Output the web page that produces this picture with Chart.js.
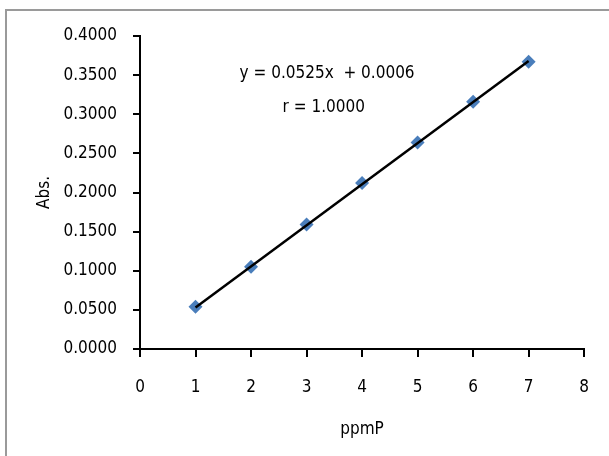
<!DOCTYPE html>
<html>
<head>
<meta charset="utf-8">
<script src="https://cdn.jsdelivr.net/npm/chart.js@4/dist/chart.umd.min.js"></script>
<style>
  html, body { margin: 0; padding: 0; background: #ffffff; }
  canvas { display: block; }
</style>
</head>
<body>
<canvas id="c" width="609" height="456"></canvas>
<script>
// ---- data ----
const ppmP = [1, 2, 3, 4, 5, 6, 7];
const absorbance = [0.054, 0.105, 0.159, 0.212, 0.264, 0.316, 0.367];
const trendX = [1, 7];
const trendY = [0.0531, 0.3681];
const xTicks = [0, 1, 2, 3, 4, 5, 6, 7, 8];
const yTicks = [0, 0.05, 0.10, 0.15, 0.20, 0.25, 0.30, 0.35, 0.40];
const equationText = 'y = 0.0525x  + 0.0006';
const rText = 'r = 1.0000';
const xTitle = 'ppmP';
const yTitle = 'Abs.';

const FONT = '"DejaVu Sans Condensed", "Open Sans", sans-serif';

const pointData = ppmP.map((x, i) => ({ x: x, y: absorbance[i] }));
const trendData = trendX.map((x, i) => ({ x: x, y: trendY[i] }));

const frame = {
  id: 'frame',
  beforeDraw(chart) {
    const ctx = chart.ctx;
    ctx.save();
    ctx.fillStyle = '#ffffff';
    ctx.fillRect(0, 0, chart.width, chart.height);
    ctx.strokeStyle = '#9a9a9a';
    ctx.lineWidth = 2;
    ctx.strokeRect(6, 10, 800, 700);
    ctx.restore();
  }
};

const labels = {
  id: 'labels',
  afterDatasetsDraw(chart) {
    const ctx = chart.ctx;
    const xs = chart.scales.x, ys = chart.scales.y;
    ctx.save();
    ctx.fillStyle = '#000000';
    ctx.font = '17px ' + FONT;
    ctx.textAlign = 'center';
    ctx.textBaseline = 'middle';
    ctx.fillText(equationText, xs.getPixelForValue(3.37), ys.getPixelForValue(0.352));
    ctx.fillText(rText, xs.getPixelForValue(3.31), ys.getPixelForValue(0.309));
    ctx.restore();
  }
};

new Chart(document.getElementById('c'), {
  type: 'scatter',
  data: {
    datasets: [
      {
        label: 'trend',
        data: trendData,
        showLine: true,
        borderColor: '#000000',
        borderWidth: 2.5,
        pointRadius: 0,
        fill: false,
        order: 0
      },
      {
        label: 'Abs.',
        data: pointData,
        showLine: false,
        pointStyle: 'rectRot',
        pointRadius: 7,
        backgroundColor: '#4a7ebb',
        borderColor: '#4a7ebb',
        borderWidth: 0,
        order: 1
      }
    ]
  },
  options: {
    responsive: false,
    animation: false,
    layout: { padding: { left: 0, right: 20, top: 36, bottom: 0 } },
    plugins: {
      legend: { display: false },
      tooltip: { enabled: false }
    },
    scales: {
      x: {
        type: 'linear',
        min: 0, max: 8,
        afterFit(s) { s.height = 107; },
        afterBuildTicks(s) { s.ticks = xTicks.map(v => ({ value: v })); },
        border: { display: true, color: '#000000', width: 2 },
        grid: { display: true, drawOnChartArea: false, drawTicks: true, tickLength: 8, color: '#000000', lineWidth: 2 },
        ticks: { color: '#000000', font: { family: FONT, size: 17 }, padding: 20, maxRotation: 0, callback: v => String(v) },
        title: { display: true, text: xTitle, color: '#000000', font: { family: FONT, size: 17 }, padding: { top: 0, bottom: 16 } }
      },
      y: {
        type: 'linear',
        min: 0, max: 0.4,
        afterFit(s) { s.width = 140; },
        afterBuildTicks(s) { s.ticks = yTicks.map(v => ({ value: v })); },
        border: { display: true, color: '#000000', width: 2 },
        grid: { display: true, drawOnChartArea: false, drawTicks: true, tickLength: 7, color: '#000000', lineWidth: 2 },
        ticks: { color: '#000000', font: { family: FONT, size: 17 }, padding: 16, callback: v => Number(v).toFixed(4) },
        title: { display: true, text: yTitle, color: '#000000', font: { family: FONT, size: 17 }, padding: { top: 34, bottom: 0 } }
      }
    }
  },
  plugins: [frame, labels]
});
</script>
</body>
</html>
